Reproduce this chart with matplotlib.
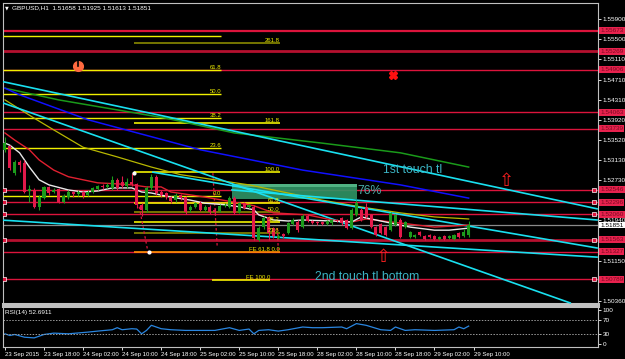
import matplotlib
matplotlib.use("Agg")
import matplotlib.pyplot as plt
import matplotlib.transforms as mtransforms
from matplotlib.patches import Rectangle

plt.rcParams["font.family"] = ["Liberation Sans", "DejaVu Sans"]

W, H = 625, 359

# ---- candles (GBPUSD H1, bar 0 = 23 Sep 10:00) ----
opens = [1.5333, 1.5340, 1.5287, 1.5309, 1.5307, 1.5252, 1.5254, 1.5221, 1.5238, 1.5260,
         1.5250, 1.5256, 1.5230, 1.5240, 1.5250, 1.5246, 1.5250, 1.5244, 1.5250, 1.5256,
         1.5262, 1.5260, 1.5258, 1.5274, 1.5270, 1.5262, 1.5270, 1.5266, 1.5225, 1.5215,
         1.5258, 1.5279, 1.5250, 1.5248, 1.5240, 1.5234, 1.5244, 1.5240, 1.5215, 1.5221,
         1.5228, 1.5215, 1.5221, 1.5215, 1.5213, 1.5223, 1.5221, 1.5238, 1.5211, 1.5228,
         1.5221, 1.5221, 1.5156, 1.5181, 1.5201, 1.5179, 1.5160, 1.5167, 1.5169, 1.5187,
         1.5191, 1.5181, 1.5203, 1.5193, 1.5191, 1.5191, 1.5187, 1.5189, 1.5195, 1.5199,
         1.5195, 1.5179, 1.5205, 1.5215, 1.5221, 1.5205, 1.5181, 1.5187, 1.5181, 1.5175,
         1.5185, 1.5195, 1.5181, 1.5162, 1.5162, 1.5171, 1.5164, 1.5166, 1.5164, 1.5158,
         1.5164, 1.5160, 1.5158, 1.5169, 1.5164, 1.5166]
highs = [1.5358, 1.5342, 1.5313, 1.5313, 1.5313, 1.5264, 1.5258, 1.5244, 1.5262, 1.5262,
         1.5258, 1.5258, 1.5246, 1.5254, 1.5252, 1.5254, 1.5252, 1.5254, 1.5260, 1.5264,
         1.5266, 1.5268, 1.5281, 1.5277, 1.5281, 1.5277, 1.5287, 1.5268, 1.5228, 1.5262,
         1.5285, 1.5283, 1.5254, 1.5250, 1.5242, 1.5248, 1.5246, 1.5242, 1.5225, 1.5230,
         1.5232, 1.5225, 1.5225, 1.5219, 1.5226, 1.5228, 1.5242, 1.5242, 1.5230, 1.5230,
         1.5226, 1.5225, 1.5183, 1.5203, 1.5203, 1.5181, 1.5167, 1.5169, 1.5191, 1.5199,
         1.5195, 1.5207, 1.5207, 1.5195, 1.5193, 1.5193, 1.5195, 1.5197, 1.5197, 1.5201,
         1.5197, 1.5219, 1.5234, 1.5219, 1.5228, 1.5207, 1.5183, 1.5189, 1.5183, 1.5211,
         1.5207, 1.5199, 1.5193, 1.5173, 1.5167, 1.5173, 1.5166, 1.5167, 1.5166, 1.5164,
         1.5166, 1.5166, 1.5167, 1.5171, 1.5177, 1.5193]
lows = [1.5329, 1.5293, 1.5283, 1.5289, 1.5248, 1.5230, 1.5219, 1.5215, 1.5236, 1.5244,
        1.5248, 1.5228, 1.5228, 1.5236, 1.5240, 1.5242, 1.5238, 1.5242, 1.5248, 1.5254,
        1.5256, 1.5258, 1.5254, 1.5254, 1.5258, 1.5258, 1.5262, 1.5219, 1.5203, 1.5211,
        1.5254, 1.5244, 1.5240, 1.5236, 1.5228, 1.5230, 1.5234, 1.5207, 1.5211, 1.5219,
        1.5213, 1.5213, 1.5207, 1.5205, 1.5211, 1.5221, 1.5219, 1.5207, 1.5209, 1.5217,
        1.5219, 1.5156, 1.5154, 1.5177, 1.5156, 1.5160, 1.5158, 1.5160, 1.5167, 1.5185,
        1.5171, 1.5179, 1.5191, 1.5187, 1.5185, 1.5185, 1.5185, 1.5185, 1.5191, 1.5185,
        1.5177, 1.5177, 1.5203, 1.5193, 1.5199, 1.5179, 1.5164, 1.5167, 1.5164, 1.5173,
        1.5183, 1.5160, 1.5179, 1.5160, 1.5160, 1.5164, 1.5156, 1.5160, 1.5156, 1.5156,
        1.5156, 1.5158, 1.5156, 1.5160, 1.5162, 1.5161]
closes = [1.5346, 1.5297, 1.5309, 1.5303, 1.5250, 1.5256, 1.5221, 1.5240, 1.5260, 1.5248,
          1.5254, 1.5230, 1.5242, 1.5250, 1.5246, 1.5250, 1.5242, 1.5250, 1.5258, 1.5262,
          1.5260, 1.5264, 1.5274, 1.5258, 1.5262, 1.5270, 1.5266, 1.5225, 1.5215, 1.5258,
          1.5279, 1.5248, 1.5244, 1.5240, 1.5232, 1.5244, 1.5238, 1.5211, 1.5221, 1.5228,
          1.5215, 1.5221, 1.5211, 1.5211, 1.5223, 1.5225, 1.5238, 1.5209, 1.5228, 1.5219,
          1.5225, 1.5160, 1.5179, 1.5199, 1.5169, 1.5164, 1.5164, 1.5164, 1.5189, 1.5195,
          1.5175, 1.5203, 1.5193, 1.5189, 1.5189, 1.5187, 1.5193, 1.5195, 1.5193, 1.5189,
          1.5179, 1.5215, 1.5228, 1.5195, 1.5201, 1.5181, 1.5166, 1.5169, 1.5166, 1.5209,
          1.5205, 1.5162, 1.5191, 1.5171, 1.5166, 1.5166, 1.5158, 1.5162, 1.5158, 1.5162,
          1.5158, 1.5164, 1.5166, 1.5162, 1.5171, 1.5185]

# ---- moving averages (read at a few bars) ----
ma_white_bars = [0, 1, 3, 5, 7, 9, 13, 16, 19, 22, 26, 28, 30, 34, 38, 41, 45, 48, 51, 52,
                 55, 58, 61, 67, 71, 73, 79, 83, 88, 91, 95]
ma_white = [1.5346, 1.5342, 1.5327, 1.5299, 1.5274, 1.5264, 1.5254, 1.5250, 1.5252, 1.5258,
            1.5258, 1.5250, 1.5248, 1.5240, 1.5234, 1.5228, 1.5225, 1.5221, 1.5215, 1.5205,
            1.5195, 1.5193, 1.5195, 1.5193, 1.5191, 1.5201, 1.5189, 1.5181, 1.5175, 1.5175, 1.5179]
ma_red_bars = [0, 2, 5, 7, 10, 13, 16, 19, 23, 26, 29, 32, 34, 41, 47, 51, 55, 62, 67, 71, 74, 81, 88, 95]
ma_red = [1.5366, 1.5352, 1.5333, 1.5313, 1.5293, 1.5280, 1.5274, 1.5268, 1.5266, 1.5264,
          1.5260, 1.5260, 1.5250, 1.5240, 1.5230, 1.5223, 1.5209, 1.5205, 1.5195, 1.5191,
          1.5197, 1.5189, 1.5181, 1.5185]
ma_yellow_bars = [0, 6, 10, 16, 23, 30, 36, 43, 50, 57, 65, 74, 81, 88, 95]
ma_yellow = [1.5431, 1.5395, 1.5372, 1.5338, 1.5319, 1.5299, 1.5284, 1.5274, 1.5264, 1.5250,
             1.5234, 1.5219, 1.5209, 1.5201, 1.5197]
ma_blue_bars = [0, 3, 17, 40, 61, 81, 95]
ma_blue = [1.5454, 1.5441, 1.5392, 1.5333, 1.5293, 1.5264, 1.5238]
ma_green_bars = [0, 11, 33, 47, 65, 81, 95]
ma_green = [1.5454, 1.5431, 1.5395, 1.5366, 1.5346, 1.5327, 1.5299]

# ---- RSI(14) ----
rsi_bars = [0, 1, 2, 4, 6, 8, 10, 13, 17, 19, 22, 23, 24, 26, 27, 28, 29, 30, 32, 34,
            37, 40, 43, 46, 48, 50, 51, 52, 54, 56, 58, 61, 63, 65, 69, 70, 72, 74, 77, 79,
            80, 82, 84, 88, 92, 93, 94, 95]
rsi_vals = [30, 25, 28, 20, 18, 28, 32, 30, 35, 38, 42, 48, 42, 45, 44, 30, 40, 55, 45, 42,
            40, 40, 40, 48, 40, 44, 30, 40, 42, 38, 42, 50, 48, 48, 50, 45, 60, 55, 42, 40,
            50, 40, 42, 40, 42, 50, 45, 52.69]

# ---- horizontal levels ----
hlines = [1.55673, 1.55269, 1.54906, 1.54063, 1.53739, 1.52546, 1.52296, 1.52060,
          1.51563, 1.51327, 1.50789]
hline_anchor = [1.52546, 1.52296, 1.52060, 1.51563, 1.50789]
last_price = 1.51851

# scale labels left visible (the others sit under the level boxes)
price_ticks = [1.55900, 1.55500, 1.55110, 1.54710, 1.54310, 1.53920, 1.53520, 1.53130,
               1.52730, 1.51940, 1.51150, 1.50360]

# trendlines: (bar, price) -> (bar, price)
tl_b0 = [-1.0, -1.0, 30.3, 46.5, -1.0]
tl_p0 = [1.5468, 1.5427, 1.5289, 1.5254, 1.5195]
tl_b1 = [121.3, 115.8, 121.3, 121.3, 121.3]
tl_p1 = [1.5217, 1.5032, 1.5140, 1.5195, 1.5122]

# fibo retracement 1 and 2
fib1_levels = [0.0, 23.6, 38.2, 50.0, 61.8, 78.6]
fib1_labels = ["0.0", "23.6", "38.2", "50.0", "61.8", ""]
fib1_p0, fib1_p100 = 1.5242, 1.5643
fib2_levels = [0.0, 23.6, 38.2, 50.0, 61.8, 100.0, 161.8, 261.8]
fib2_labels = ["FE 61.8 0.0", "23.6", "38.2", "50.0", "61.8", "100.0", "161.8", "261.8"]
fib2_p0, fib2_p100 = 1.5132, 1.5289
fe100_price = 1.5077

date_ticks = [0, 8, 16, 24, 32, 40, 48, 56, 64, 72, 80, 88, 96]
date_labels = ["23 Sep 2015", "23 Sep 18:00", "24 Sep 02:00", "24 Sep 10:00", "24 Sep 18:00",
               "25 Sep 02:00", "25 Sep 10:00", "25 Sep 18:00", "28 Sep 02:00", "28 Sep 10:00",
               "28 Sep 18:00", "29 Sep 02:00", "29 Sep 10:00"]

BULL, BEAR = "#1c9c1c", "#e2194a"
RED = "#dc143c"
CYAN = "#19e0f0"
SMALL = 4.6

fig = plt.figure(figsize=(W / 100, H / 100), dpi=100, facecolor="black")
ax = fig.add_axes([3 / W, 1 - 304 / H, 595 / W, 301 / H], facecolor="black")
rsi = fig.add_axes([3 / W, 1 - 347 / H, 595 / W, 41 / H], facecolor="black")

ax.set_xlim(-0.4, 121.5)
ax.set_ylim(1.50299, 1.56214)
rsi.set_xlim(-0.4, 121.5)
rsi.set_ylim(-8.8, 111.8)

ytr = mtransforms.blended_transform_factory(ax.transAxes, ax.transData)

# horizontal red lines
for p in hlines:
    lw, c = 1.0, RED
    if p in (1.55269, 1.51563):
        lw, c = 2.0, "#b5102f"
    if p == 1.55673:
        lw = 1.6
    ax.axhline(p, color=c, lw=lw, zorder=2)
    ax.text(1.004, p, f"{p:.5f}", transform=ytr, fontsize=SMALL, color="#7a0a20",
            va="center", ha="left", clip_on=False, zorder=10,
            bbox=dict(boxstyle="square,pad=0.15", fc="#e8224e", ec="none"))
for p in hline_anchor:
    ax.plot([-0.1, 120.6], [p, p], "s", ms=3, mfc=RED, mec="white", mew=0.5, zorder=6)

ax.axhline(last_price, color="#8a8a8a", lw=0.9, zorder=2)
ax.text(1.004, last_price, f"{last_price:.5f}", transform=ytr, fontsize=SMALL, color="black",
        va="center", ha="left", clip_on=False, zorder=11,
        bbox=dict(boxstyle="square,pad=0.15", fc="white", ec="none"))

# fib retracement 1
for lv, lab in zip(fib1_levels, fib1_labels):
    p = fib1_p0 + lv / 100 * (fib1_p100 - fib1_p0)
    ax.hlines(p, -0.4, 44.3, color="#f0f000", lw=1.0, zorder=3)
    ax.text(44.3, p, lab, fontsize=4.3, color="#f0f000", ha="right", va="bottom", zorder=7)

# fib retracement 2 / expansion
fib2_colors = ["#ff9000", "#8a8a00", "#f0f000", "#8a8a00", "#f0f000", "#f0f000", "#f0f000", "#8a8a00"]
for lv, lab, c in zip(fib2_levels, fib2_labels, fib2_colors):
    p = fib2_p0 + lv / 100 * (fib2_p100 - fib2_p0)
    ax.hlines(p, 26.4, 56.3, color=c, lw=1.2, zorder=3)
    ax.text(56.3, p, lab, fontsize=4.3, color="#f0f000", ha="right", va="bottom", zorder=7)
ax.hlines(fe100_price, 42.4, 54.3, color="#f0f000", lw=1.2, zorder=3)
ax.text(54.3, fe100_price, "FE 100.0", fontsize=4.3, color="#f0f000", ha="right", va="bottom", zorder=7)

# dashed fib anchors
ax.plot([27.5, 29.3], [1.5221, 1.5132], ls=(0, (2, 2)), color=RED, lw=0.9, zorder=4)
ax.plot([42.6, 43.5], [1.5287, 1.5140], ls=(0, (2, 2)), color=RED, lw=0.9, zorder=4)
ax.plot([55.8, 56.0], [1.5179, 1.5136], ls=(0, (2, 2)), color=RED, lw=0.9, zorder=4)
ax.plot([26.4, 29.5], [1.5287, 1.5132], "o", ms=2, color="white", zorder=8)

# green zone
ax.add_patch(Rectangle((46.5, 1.5236), 25.6, 0.0029, fc="#2f9466", ec="none", alpha=0.9, zorder=2.5))
ax.add_patch(Rectangle((46.5, 1.5259), 25.6, 0.0006, fc="#55b888", ec="none", alpha=0.9, zorder=2.6))

# moving averages
ax.plot(ma_green_bars, ma_green, color="#1a9a1a", lw=1.1, zorder=4)
ax.plot(ma_blue_bars, ma_blue, color="#1010ff", lw=1.1, zorder=4)
ax.plot(ma_yellow_bars, ma_yellow, color="#b8b800", lw=0.9, zorder=4)
ax.plot(ma_red_bars, ma_red, color="#e02030", lw=1.0, zorder=5)
ax.plot(ma_white_bars, ma_white, color="#e8e8e8", lw=1.0, zorder=5)

# trendlines
for b0, p0, b1, p1 in zip(tl_b0, tl_p0, tl_b1, tl_p1):
    ax.plot([b0, b1], [p0, p1], color=CYAN, lw=1.2, zorder=4)

# candles
for i, (o, h, l, c) in enumerate(zip(opens, highs, lows, closes)):
    col = BULL if c >= o else BEAR
    ax.vlines(i, l, h, color=col, lw=0.8, zorder=6)
    ax.bar(i, max(abs(c - o), 0.00004), bottom=min(o, c), width=0.62, color=col, zorder=6)

# annotations
ax.text(77.5, 1.5293, "1st touch tl", fontsize=8.8, color="#3bb4c4", va="center", zorder=9)
ax.text(72.3, 1.5252, "76%", fontsize=8.8, color="#4aaea8", va="center", zorder=9)
ax.text(63.5, 1.5083, "2nd touch tl bottom", fontsize=8.8, color="#3bb4c4", va="center", zorder=9)
ax.text(102.7, 1.5272, "\u21e7", fontsize=13, color="#ff2020", ha="center", va="center",
        family="DejaVu Sans", zorder=9)
ax.text(77.5, 1.5122, "\u21e7", fontsize=13, color="#ff2020", ha="center", va="center",
        family="DejaVu Sans", zorder=9)
ax.plot(79.5, 1.5480, "X", ms=6, color="#ff1010", mec="#ff1010", zorder=9)
ax.plot(15.0, 1.5498, "o", ms=7, color="#ff6a40", zorder=9)
ax.plot([15.0, 15.0], [1.5498, 1.5510], color="black", lw=1.2, zorder=10)

# price axis
ax.yaxis.tick_right()
ax.set_yticks(price_ticks)
ax.set_yticklabels([f"{t:.5f}" for t in price_ticks])
ax.tick_params(axis="y", colors="white", labelsize=SMALL, length=2, pad=1.5, width=0.6)
ax.set_xticks([])
for s in ax.spines.values():
    s.set_color("#c0c0c0")
    s.set_linewidth(0.8)
ax.spines["bottom"].set_linewidth(2.2)

fig.text(5 / W, 1 - 8 / H, "\u25bc", fontsize=3.5, color="white", va="center", family="DejaVu Sans")
fig.text(12 / W, 1 - 8 / H, "GBPUSD,H1  1.51658 1.51925 1.51613 1.51851",
         fontsize=SMALL, color="white", va="center")

# RSI panel
rsi.plot(rsi_bars, rsi_vals, color="#2a86e0", lw=0.9)
rsi.axhline(70, color="#9a9a9a", lw=0.7, ls=(0, (1.5, 1.5)))
rsi.axhline(30, color="#9a9a9a", lw=0.7, ls=(0, (1.5, 1.5)))
rsi.text(0.004, 0.83, "RSI(14) 52.6911", transform=rsi.transAxes, fontsize=SMALL, color="white", va="center")
rsi.yaxis.tick_right()
rsi.set_yticks([0, 30, 70, 100])
rsi.set_yticklabels(["0", "30", "70", "100"])
rsi.tick_params(axis="y", colors="white", labelsize=SMALL, length=2, pad=1.5, width=0.6)
rsi.set_xticks(date_ticks)
rsi.set_xticklabels(date_labels, ha="left")
rsi.tick_params(axis="x", colors="white", labelsize=4.3, length=2, pad=1.5, width=0.6)
for s in rsi.spines.values():
    s.set_color("#c0c0c0")
    s.set_linewidth(0.8)
rsi.spines["top"].set_linewidth(2.2)

fig.savefig("out.png", dpi=100, facecolor="black")
